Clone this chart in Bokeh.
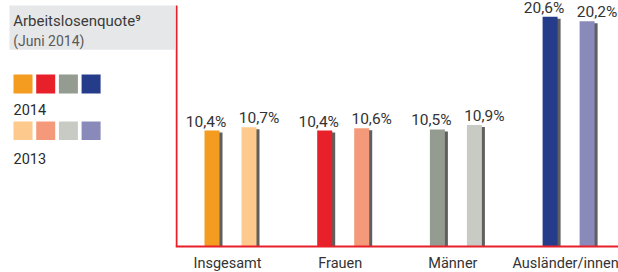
from bokeh.plotting import figure
from bokeh.layouts import row
from bokeh.models import Range1d, Span, ColumnDataSource
from bokeh.core.properties import value
from bokeh.embed import file_html
from bokeh.resources import INLINE

# ---------------- data ----------------
categories = ["Insgesamt", "Frauen", "Männer", "Ausländer/innen"]
values_2014 = [10.4, 10.4, 10.5, 20.6]
values_2013 = [10.7, 10.6, 10.9, 20.2]
labels_2014 = ["10,4%", "10,4%", "10,5%", "20,6%"]
labels_2013 = ["10,7%", "10,6%", "10,9%", "20,2%"]
colors_2014 = ["#f39c1f", "#e8202a", "#949c91", "#253c8b"]
colors_2013 = ["#fdc98c", "#f49a7b", "#c7cbc4", "#8a8aba"]
title = "Arbeitslosenquote\u2079"
subtitle = "(Juni 2014)"
legend_years = ["2014", "2013"]

# ---------------- styles ----------------
RED = "#e8202a"
SHADOW = "#5f5f5f"
TEXT = "#333333"
FONT = value("Roboto")

LEFT_W, RIGHT_W, H = 175, 443, 272
AXIS_TOP = 5              # page y where the vertical red line starts
BASE = 246                # page y of the baseline
PX_CAT = 112.7            # pixels per category
PX_VAL = 11.15            # pixels per percent
XSTART = -55.0 / PX_CAT
XEND = XSTART + RIGHT_W / PX_CAT
YSTART = -(H - BASE) / PX_VAL
YEND = BASE / PX_VAL
OFF = 18.5 / PX_CAT
BW = 15.0 / PX_CAT
SDX = 3.0 / PX_CAT
SDY = 2.0 / PX_VAL

# ---------------- left panel (title + legend) ----------------
left = figure(width=LEFT_W, height=H, x_range=Range1d(0, LEFT_W), y_range=Range1d(H, 0),
              output_backend="svg", toolbar_location=None, min_border=0)
left.axis.visible = False
left.grid.visible = False
left.outline_line_color = None

left.quad(left=[9], right=[LEFT_W], top=[AXIS_TOP], bottom=[49.3], fill_color="#e6e7e8", line_color=None)
left.text(x=[12.7], y=[20], text=[title], text_font=FONT, text_font_size="15px",
          text_color="#3a3a3a", text_baseline="alphabetic")
left.text(x=[12.7], y=[40.3], text=[subtitle], text_font=FONT, text_font_size="14px",
          text_color="#5a5a5a", text_baseline="alphabetic")

sq_left = [13 + i * 22.7 for i in range(len(colors_2014))]
left.quad(left=sq_left, right=[v + 19 for v in sq_left], top=[74] * 4, bottom=[93] * 4,
          fill_color=colors_2014, line_color=None)
left.quad(left=sq_left, right=[v + 19 for v in sq_left], top=[121] * 4, bottom=[139.5] * 4,
          fill_color=colors_2013, line_color=None)
left.text(x=[13, 13], y=[109, 157.5], text=legend_years, text_font=FONT, text_font_size="14.5px",
          text_color="#2a2a2a", text_baseline="alphabetic")

# ---------------- right panel (bars) ----------------
p = figure(width=RIGHT_W, height=H, x_range=Range1d(XSTART, XEND), y_range=Range1d(YSTART, YEND),
           output_backend="svg", toolbar_location=None, min_border=0)
p.axis.visible = False
p.grid.visible = False
p.outline_line_color = None

idx = list(range(len(categories)))
x14 = [i - OFF for i in idx]
x13 = [i + OFF for i in idx]

src = ColumnDataSource(dict(x14=x14, x13=x13, v14=values_2014, v13=values_2013,
                            c14=colors_2014, c13=colors_2013, l14=labels_2014, l13=labels_2013))

# shadows
for xv, vs in ((x14, values_2014), (x13, values_2013)):
    p.quad(left=[x - BW / 2 + SDX for x in xv], right=[x + BW / 2 + SDX for x in xv],
           top=[v - SDY for v in vs], bottom=[0] * len(vs), fill_color=SHADOW, line_color=None)

p.vbar(x="x14", top="v14", width=BW, bottom=0, fill_color="c14", line_color=None, source=src)
p.vbar(x="x13", top="v13", width=BW, bottom=0, fill_color="c13", line_color=None, source=src)

for xs, vs, ls, dx in (("x14", "v14", "l14", -6), ("x13", "v13", "l13", 10)):
    p.text(x=xs, y=vs, text=ls, source=src, text_font=FONT, text_font_size="15.5px",
           text_color=TEXT, text_align="center", text_baseline="alphabetic",
           x_offset=dx, y_offset=-9)

# category labels (categorical axis row)
p.text(x=idx, y=[0] * len(idx), text=categories, text_font=FONT, text_font_size="14.5px",
       text_color=TEXT, text_align="center", text_baseline="alphabetic", x_offset=-3, y_offset=17)

# red axis lines
p.add_layout(Span(location=0, dimension="width", line_color=RED, line_width=2))
vx = XSTART + 1.0 / PX_CAT
p.segment(x0=[vx], y0=[0], x1=[vx], y1=[(BASE - AXIS_TOP) / PX_VAL], line_color=RED, line_width=2)

layout = row(left, p, spacing=0)
open("out.html", "w").write(file_html(layout, INLINE))
